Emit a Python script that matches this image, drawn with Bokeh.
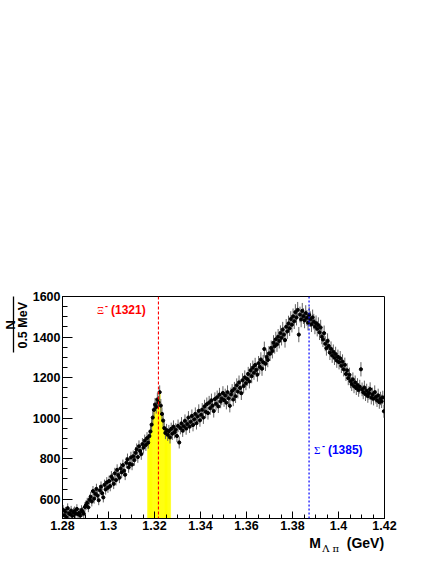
import numpy as np
from bokeh.plotting import figure
from bokeh.models import (Range1d, FixedTicker, CustomJSTickFormatter, Span, Label,
                          LinearAxis, ColumnDataSource)
from bokeh.embed import file_html
from bokeh.resources import INLINE

# ---------------- data ----------------
bin_lo = 1.28          # GeV, lower edge of histogram
bin_width = 0.0005     # GeV (0.5 MeV bins)
counts = [
    548, 521, 539, 512, 556, 530, 527, 544, 518, 535, 541, 529, 552, 526, 533, 519, 547, 538, 529, 562,
    571, 583, 560, 598, 612, 589, 640, 603, 627, 651, 618, 595, 644, 662, 630, 609, 671, 648, 683, 657,
    690, 665, 712, 701, 676, 728, 694, 745, 719, 706, 752, 733, 768, 741, 721, 780, 797, 758, 774, 806,
    771, 812, 793, 829, 846, 808, 861, 838, 823, 872, 855, 889, 868, 901,
    879, 912, 934, 968, 1003, 1041, 1067, 1055, 1092, 1078, 1128,
    1062, 1021, 988, 951, 927, 941, 918, 936, 905, 947,
    923, 958, 931, 944, 912, 962, 880, 951, 974, 938, 960, 987, 949, 971, 1003, 958, 982, 1011, 966, 994,
    1021, 975, 1008, 1036, 989,
    1017, 1042, 1003, 1058, 1031, 1069, 1025, 1077, 1049, 1088, 1062, 1035, 1094, 1071, 1103, 1058, 1116, 1082, 1097, 1124,
    1089, 1112, 1076, 1128, 1098, 1061, 1117, 1134, 1092, 1145, 1108, 1162, 1131, 1176, 1149, 1123, 1187, 1158, 1201, 1172,
    1193, 1218, 1181, 1236, 1207, 1249, 1224, 1262, 1238, 1215, 1271, 1253, 1289, 1244, 1276, 1341, 1268, 1302, 1287, 1319,
    1318, 1346, 1331, 1372, 1355, 1389, 1364, 1402, 1381, 1420, 1396, 1437, 1412, 1385, 1451, 1428, 1467, 1443, 1489, 1461,
    1502, 1478, 1523, 1496, 1534, 1412, 1511, 1487, 1529, 1503, 1482, 1518, 1495, 1471, 1509, 1488, 1463, 1497, 1476, 1452,
    1468, 1441, 1459, 1423, 1447, 1402, 1388, 1419, 1367, 1345, 1381, 1356, 1323, 1342, 1309, 1327, 1298, 1316, 1284, 1302,
    1276, 1295, 1258, 1279, 1241, 1263, 1218, 1236, 1197, 1214, 1182, 1168, 1191, 1157, 1176, 1148, 1163, 1139, 1155, 1241,
    1142, 1127, 1151, 1118, 1136, 1109, 1124, 1143, 1101, 1117, 1096, 1128, 1105, 1088, 1112, 1079, 1097, 1083, 1102, 1034,
]
x_ticks = [1.28, 1.30, 1.32, 1.34, 1.36, 1.38, 1.40, 1.42]
y_ticks = [600, 800, 1000, 1200, 1400, 1600]
x_range = (1.28, 1.42)
y_range = (505, 1600)
xi_mass = 1.32171
sigma_mass = 1.3872
band_lo, band_hi = 1.317, 1.327
xi_text, sigma_text, charge_text = "\u039e", "\u03a3", "-"
xi_mass_text, sigma_mass_text = "(1321)", "(1385)"
ytitle_num, ytitle_den = "N", "0.5 MeV"
xtitle_main, xtitle_sub, xtitle_unit = "M", "\u039b \u03c0", "(GeV)"

# ---------------- derived ----------------
counts_a = np.array(counts, dtype=float)
centers = bin_lo + bin_width * (np.arange(len(counts_a)) + 0.5)
errs = np.sqrt(counts_a)
src = ColumnDataSource(dict(x=centers, y=counts_a, lo=counts_a - errs, hi=counts_a + errs))
inband = (centers > band_lo) & (centers < band_hi)
band_src = ColumnDataSource(dict(x=centers[inband], top=counts_a[inband]))

W, H = 431, 560
p = figure(width=W, height=H, x_range=Range1d(*x_range), y_range=Range1d(*y_range),
           output_backend="svg", toolbar_location=None,
           min_border_left=61, min_border_right=47, min_border_top=296, min_border_bottom=42)
p.background_fill_color = "white"
p.border_fill_color = "white"
p.grid.visible = False
p.outline_line_color = "black"
p.outline_line_width = 1

# yellow signal band (histogram fill in the Xi window)
p.vbar(x="x", top="top", bottom=0, width=bin_width, source=band_src,
       fill_color="#ffff00", line_color="#ffff00", line_width=0.5)

# error bars and markers
p.segment(x0="x", y0="lo", x1="x", y1="hi", source=src, line_color="#606060", line_width=1)
p.scatter(x="x", y="y", source=src, marker="circle", size=3.2,
          fill_color="black", line_color="black")

# reference mass lines
p.add_layout(Span(location=xi_mass, dimension="height", line_color="#ff0000",
                  line_dash="3 2", line_width=1.1))
p.add_layout(Span(location=sigma_mass, dimension="height", line_color="#0000ff",
                  line_dash="2 2", line_width=1.2))

# main axes
xt = np.round(np.arange(x_range[0], x_range[1] + 1e-9, 0.005), 4).tolist()
yt = list(range(550, 1601, 50))
p.xaxis.ticker = FixedTicker(ticks=x_ticks, minor_ticks=xt)
p.yaxis.ticker = FixedTicker(ticks=y_ticks, minor_ticks=yt)
p.xaxis.formatter = CustomJSTickFormatter(code="return parseFloat(tick.toFixed(2)).toString();")
for ax in (p.xaxis[0], p.yaxis[0]):
    ax.axis_line_color = "black"
    ax.axis_line_width = 1
    ax.major_tick_line_color = "black"
    ax.minor_tick_line_color = "black"
    ax.major_tick_out = 0
    ax.minor_tick_out = 0
    ax.major_label_text_font = "Liberation Sans"
    ax.major_label_text_font_style = "bold"
    ax.major_label_text_font_size = "12.5px"
    ax.major_label_text_color = "black"
p.xaxis.major_label_standoff = 2
p.yaxis.major_label_standoff = 2
p.xaxis.major_tick_in = 7
p.xaxis.minor_tick_in = 4
p.yaxis.major_tick_in = 10
p.yaxis.minor_tick_in = 5

LOOKUP = """
let b = 0;
for (let i = 0; i < pos.length; i++) {
  if (Math.abs(pos[i] - tick) < Math.abs(pos[b] - tick)) { b = i; }
}
return txt[b];
"""

def title_axis(kind, pos, txt, font, style, size, standoff, orientation="horizontal",
               line=False, bounds=None):
    ax = LinearAxis(ticker=FixedTicker(ticks=pos, minor_ticks=[]),
                    formatter=CustomJSTickFormatter(args=dict(pos=pos, txt=txt), code=LOOKUP))
    ax.major_tick_line_color = None
    ax.minor_tick_line_color = None
    ax.major_tick_in = 0
    ax.major_tick_out = 0
    ax.minor_tick_in = 0
    ax.minor_tick_out = 0
    ax.axis_line_color = "black" if line else None
    ax.axis_line_width = 1.3
    if bounds is not None:
        ax.bounds = bounds
    ax.major_label_text_font = font
    ax.major_label_text_font_style = style
    ax.major_label_text_font_size = size
    ax.major_label_text_color = "black"
    ax.major_label_standoff = standoff
    ax.major_label_orientation = orientation
    p.add_layout(ax, kind)
    return ax

# x-axis title: "M", subscript "Λ π", "(GeV)"
title_axis("below", [1.3898, 1.4117], [xtitle_main, xtitle_unit],
           "Liberation Sans", "bold", "14px", 2)
title_axis("below", [1.3966], [xtitle_sub], "DejaVu Serif", "normal", "10px", -11)

# y-axis title: fraction N / 0.5 MeV (rotated); the fraction bar is the axis line
title_axis("left", [1458], [ytitle_den], "Liberation Sans", "bold", "12.5px", -1,
           orientation="vertical")
title_axis("left", [1460], [ytitle_num], "Liberation Sans", "bold", "13.5px", -5,
           orientation="vertical", line=True, bounds=(1325, 1600))

# resonance labels (inside the frame, data coordinates)
def lab(x, y, text, color, font, style, size, dy=0):
    p.add_layout(Label(x=x, y=y, y_offset=dy, text=text, text_color=color, text_font=font,
                       text_font_style=style, text_font_size=size,
                       text_align="left", text_baseline="middle"))

lab(1.2950, 1531, xi_text, "#ff0000", "Liberation Serif", "normal", "11px")
lab(1.29845, 1531, charge_text, "#ff0000", "Liberation Sans", "bold", "9px", dy=4)
lab(1.3011, 1531, xi_mass_text, "#ff0000", "Liberation Sans", "bold", "12px")
lab(1.3894, 843, sigma_text, "#0000ff", "Liberation Serif", "normal", "11px")
lab(1.39285, 843, charge_text, "#0000ff", "Liberation Sans", "bold", "9px", dy=4)
lab(1.3954, 843, sigma_mass_text, "#0000ff", "Liberation Sans", "bold", "12px")

open("out.html", "w").write(file_html(p, INLINE))
